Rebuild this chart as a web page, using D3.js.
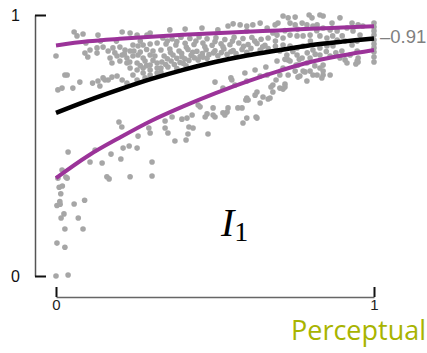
<!DOCTYPE html>
<html>
<head>
<meta charset="utf-8">
<script src="https://cdn.jsdelivr.net/npm/d3@7"></script>
<style>
  html, body { margin: 0; padding: 0; background: #fff; }
  svg { display: block; }
</style>
</head>
<body>
<svg id="chart" width="427" height="353"></svg>
<script>
// Axis ticks
const xTicks = [0, 1];
const yTicks = [0, 1];

// Fitted curves, sampled along x
const curveX = [0, 0.1, 0.2, 0.3, 0.4, 0.5, 0.6, 0.7, 0.8, 0.9, 1];
const meanY  = [0.625, 0.672, 0.715, 0.755, 0.79, 0.82, 0.845, 0.865, 0.884, 0.898, 0.91];
const upperY = [0.883, 0.899, 0.909, 0.917, 0.924, 0.93, 0.936, 0.941, 0.947, 0.952, 0.957];
const lowerY = [0.375, 0.46, 0.53, 0.595, 0.65, 0.70, 0.745, 0.785, 0.82, 0.845, 0.866];

// End-of-curve value label
const endValue = 0.91;
const endLabel = "\u20130.91";

// Observations [x, y]
const pts = [
  // sparse low tail near x = 0
  [0.006,0.375],[0.035,0.375],[0.01,0.34],[0.02,0.345],[0.015,0.315],[0.003,0.27],[0.013,0.275],
  [0.012,0.285],[0.057,0.276],[0.09,0.29],[0.025,0.238],[0.016,0.222],[0.07,0.222],[0.028,0.18],
  [0.085,0.18],[0.003,0.126],[0.028,0.11],[0.0,0.0],[0.038,0.004],
  [0.16,0.38],[0.167,0.372],[0.233,0.38],[0.302,0.383],
  // between lower curve and mean, left half
  [0.019,0.72],[0.006,0.713],[0.053,0.72],[0.138,0.728],[0.198,0.59],[0.207,0.571],[0.258,0.536],
  [0.292,0.567],[0.296,0.548],[0.038,0.475],[0.123,0.483],[0.211,0.49],[0.23,0.498],[0.255,0.49],
  [0.173,0.467],[0.204,0.448],[0.107,0.437],[0.145,0.433],[0.302,0.437],[0.019,0.406],[0.031,0.379],
  [0.447,0.655],[0.453,0.648],[0.469,0.609],[0.475,0.621],[0.494,0.644],[0.5,0.609],[0.531,0.617],
  [0.538,0.628],[0.541,0.644],[0.585,0.644],[0.588,0.586],[0.6,0.605],[0.6,0.682],[0.604,0.674],
  [0.626,0.693],[0.632,0.705],[0.651,0.686],[0.642,0.663],[0.632,0.605],[0.667,0.678],[0.478,0.544],
  [0.374,0.517],[0.409,0.521],[0.415,0.544],[0.418,0.571],[0.431,0.567],[0.412,0.605],[0.428,0.617],
  [0.396,0.601],[0.365,0.609],[0.343,0.594],[0.343,0.567],[0.352,0.548],
  [0.682,0.732],[0.72,0.724],[0.714,0.716],[0.682,0.705],[0.673,0.682],
  [0.597,0.674],[0.676,0.724],[0.704,0.72],[0.572,0.644],[0.629,0.609],[0.525,0.625],[0.494,0.617],
  // below the mean curve, right half
  [0.553,0.751],[0.594,0.778],[0.6,0.747],[0.642,0.766],[0.664,0.77],[0.55,0.759],[0.5,0.743],
  [0.525,0.72],[0.563,0.732],[0.626,0.789],[0.66,0.801],[0.692,0.751],[0.72,0.735],[0.761,0.762],
  [0.783,0.782],[0.808,0.77],[0.84,0.77],[0.83,0.797],[0.755,0.808],[0.73,0.828],[0.95,0.82],
  [0.909,0.828],[0.943,0.812],
  // dense band, left
  [0.057,0.935],[0.085,0.927],[0.132,0.923],[0.208,0.935],[0.233,0.931],[0.255,0.923],[0.286,0.923],
  [0.296,0.931],[0.0,0.843],[0.091,0.854],[0.107,0.866],[0.129,0.874],[0.148,0.877],[0.164,0.862],
  [0.179,0.874],[0.201,0.877],[0.217,0.866],[0.233,0.862],[0.242,0.885],[0.258,0.881],[0.274,0.885],
  [0.296,0.889],[0.318,0.893],[0.17,0.835],[0.192,0.843],[0.208,0.847],[0.223,0.835],[0.242,0.843],
  [0.258,0.847],[0.274,0.835],[0.296,0.847],[0.311,0.843],[0.176,0.816],[0.201,0.824],[0.223,0.816],
  [0.255,0.816],[0.28,0.824],[0.296,0.808],[0.318,0.816],[0.233,0.797],[0.255,0.789],[0.274,0.797],
  [0.296,0.789],[0.318,0.797],[0.242,0.77],[0.274,0.778],[0.296,0.77],[0.318,0.778],[0.028,0.77],
  [0.132,0.747],[0.148,0.759],[0.164,0.751],[0.192,0.766],[0.208,0.751],[0.223,0.739],[0.255,0.751],
  [0.28,0.759],[0.066,0.92],[0.094,0.893],[0.129,0.854],[0.1,0.839],[0.035,0.77],[0.075,0.743],
  [0.154,0.751],[0.176,0.762],[0.115,0.739],
  [0.185,0.855],[0.215,0.85],[0.245,0.862],[0.265,0.858],[0.285,0.868],[0.305,0.862],[0.232,0.82],
  [0.265,0.806],[0.305,0.826],[0.285,0.806],[0.19,0.9],[0.265,0.9],[0.14,0.9],
  // dense band, middle
  [0.358,0.943],[0.406,0.946],[0.459,0.95],[0.509,0.943],[0.541,0.958],[0.557,0.966],[0.579,0.962],
  [0.6,0.958],[0.619,0.962],[0.642,0.969],[0.664,0.95],[0.6,0.939],
  [0.336,0.912],[0.365,0.908],[0.393,0.915],[0.421,0.91],[0.45,0.916],[0.475,0.909],[0.503,0.913],
  [0.531,0.906],[0.56,0.915],[0.588,0.91],[0.616,0.914],[0.645,0.907],[0.667,0.912],
  [0.346,0.889],[0.377,0.885],[0.406,0.892],[0.434,0.887],[0.462,0.893],[0.491,0.884],[0.519,0.89],
  [0.547,0.886],[0.575,0.893],[0.604,0.887],[0.632,0.891],[0.657,0.884],
  [0.33,0.866],[0.358,0.87],[0.387,0.862],[0.415,0.868],[0.443,0.861],[0.472,0.867],[0.5,0.863],
  [0.528,0.87],[0.557,0.864],[0.585,0.868],[0.613,0.872],[0.642,0.866],[0.667,0.871],
  [0.34,0.843],[0.368,0.847],[0.396,0.84],[0.425,0.846],[0.453,0.841],[0.481,0.848],[0.509,0.844],
  [0.538,0.849],[0.566,0.852],
  [0.333,0.82],[0.362,0.824],[0.39,0.818],[0.418,0.826],[0.447,0.828],[0.475,0.834],
  [0.33,0.797],[0.352,0.801],[0.38,0.795],[0.409,0.805],[0.33,0.78],
  [0.35,0.9],[0.38,0.898],[0.41,0.876],[0.44,0.9],[0.468,0.878],[0.5,0.898],[0.525,0.878],
  [0.555,0.9],[0.59,0.88],[0.625,0.9],[0.65,0.878],[0.36,0.856],[0.395,0.853],[0.43,0.857],
  [0.46,0.852],[0.495,0.855],[0.52,0.856],[0.55,0.859],[0.6,0.857],[0.35,0.832],[0.38,0.834],
  [0.405,0.832],[0.435,0.836],[0.462,0.838],[0.345,0.81],[0.372,0.81],[0.4,0.815],
  // dense band, right
  [0.714,0.996],[0.73,0.989],[0.752,0.992],[0.796,1.0],[0.805,0.989],[0.83,1.0],[0.84,0.996],
  [0.868,0.969],[0.893,0.989],[0.931,0.969],[0.95,0.962],[0.965,0.958],[0.698,0.969],[0.689,0.962],
  [0.736,0.969],[0.752,0.962],[0.774,0.969],[0.789,0.962],[0.808,0.958],[0.821,0.962],[0.84,0.95],
  [0.862,0.943],[0.884,0.939],[0.915,0.95],[0.934,0.939],[0.956,0.923],[0.682,0.931],[0.695,0.923],
  [0.714,0.912],[0.736,0.923],[0.758,0.92],[0.777,0.92],[0.799,0.923],[0.83,0.92],[0.852,0.912],
  [0.884,0.904],[0.909,0.9],[0.931,0.885],[0.947,0.9],[0.714,0.885],[0.736,0.881],[0.758,0.874],
  [0.777,0.881],[0.808,0.866],[0.83,0.874],[0.852,0.881],[0.871,0.881],[0.899,0.862],[0.925,0.847],
  [0.947,0.862],[0.95,0.835],[0.704,0.862],[0.726,0.847],[0.758,0.847],[0.774,0.835],[0.799,0.835],
  [0.83,0.847],[0.862,0.843],[0.893,0.835],[0.915,0.816],[0.947,0.824],[0.695,0.824],[0.736,0.824],
  [0.761,0.808],[0.789,0.816],[0.814,0.805],[0.84,0.808],[0.714,0.797],[0.752,0.785],[0.777,0.785],
  [0.799,0.785],[0.821,0.77],[0.84,0.785],[0.862,0.77],[0.704,0.77],[0.73,0.77],[0.767,0.766],
  [0.789,0.747],[0.836,0.759],
  [0.69,0.9],[0.72,0.94],[0.76,0.945],[0.8,0.9],[0.82,0.94],[0.87,0.92],[0.9,0.92],[0.69,0.88],
  [0.745,0.86],[0.79,0.855],[0.815,0.85],[0.85,0.86],[0.88,0.855],[0.72,0.83],[0.765,0.83],
  // column at x = 1
  [1,0.969],[1,0.954],[1,0.939],[1,0.923],[1,0.904],[1,0.889],[1,0.874],[1,0.858],[1,0.839],[1,0.82]
];

const svg = d3.select("#chart");

const x = d3.scaleLinear().domain([0, 1]).range([56, 374]);
const y = d3.scaleLinear().domain([0, 1]).range([276, 15]);

// y axis: detached line to the left of the data
const yAxis = svg.append("g")
  .attr("transform", "translate(35,0)")
  .call(d3.axisLeft(y).tickValues(yTicks).tickSize(-11).tickSizeOuter(0).tickPadding(15)
        .tickFormat(d3.format("d")));
yAxis.select(".domain").attr("stroke", "#555").attr("stroke-width", 1.5);
yAxis.selectAll(".tick line").attr("stroke", "#111").attr("stroke-width", 2);
yAxis.selectAll(".tick text").attr("font-family", "Liberation Sans, Arial, sans-serif")
  .attr("font-size", 16).attr("fill", "#111");

// x axis: detached line below the data
const xAxis = svg.append("g")
  .attr("transform", "translate(0,297)")
  .call(d3.axisBottom(x).tickValues(xTicks).tickSize(-10).tickSizeOuter(0).tickPadding(2)
        .tickFormat(d3.format("d")));
xAxis.select(".domain").attr("stroke", "#666").attr("stroke-width", 1.5);
xAxis.selectAll(".tick line").attr("stroke", "#111").attr("stroke-width", 2);
xAxis.selectAll(".tick text").attr("font-family", "Liberation Sans, Arial, sans-serif")
  .attr("font-size", 15).attr("fill", "#222");

// scatter
svg.append("g").selectAll("circle")
  .data(pts)
  .join("circle")
  .attr("cx", d => x(d[0]))
  .attr("cy", d => y(d[1]))
  .attr("r", 2.8)
  .attr("fill", "#a6a6a6");

// curves
const mk = ys => curveX.map((v, i) => [v, ys[i]]);
const path = d3.line().x(d => x(d[0])).y(d => y(d[1])).curve(d3.curveCatmullRom);

svg.append("path").datum(mk(lowerY)).attr("d", path)
  .attr("fill", "none").attr("stroke", "#9b3399").attr("stroke-width", 4);
svg.append("path").datum(mk(upperY)).attr("d", path)
  .attr("fill", "none").attr("stroke", "#9b3399").attr("stroke-width", 4);
svg.append("path").datum(mk(meanY)).attr("d", path)
  .attr("fill", "none").attr("stroke", "#000").attr("stroke-width", 4.5);

// value at the end of the mean curve
svg.append("text")
  .attr("x", x(1) + 6)
  .attr("y", y(endValue) + 5)
  .attr("font-family", "Liberation Sans, Arial, sans-serif")
  .attr("font-size", 18.5)
  .attr("fill", "#808080")
  .text(endLabel);

// panel label
const lab = svg.append("text")
  .attr("x", 221)
  .attr("y", 236)
  .attr("font-family", "Liberation Serif, Times New Roman, serif")
  .attr("fill", "#000");
lab.append("tspan").attr("font-style", "italic").attr("font-size", 40).text("I");
lab.append("tspan").attr("font-size", 28).attr("dy", 5).text("1");

// axis title, running off the right edge
svg.append("text")
  .attr("x", 291)
  .attr("y", 340)
  .attr("font-family", "Open Sans, sans-serif")
  .attr("font-size", 27)
  .attr("fill", "#a8b400")
  .text("Perceptual");
</script>
</body>
</html>
